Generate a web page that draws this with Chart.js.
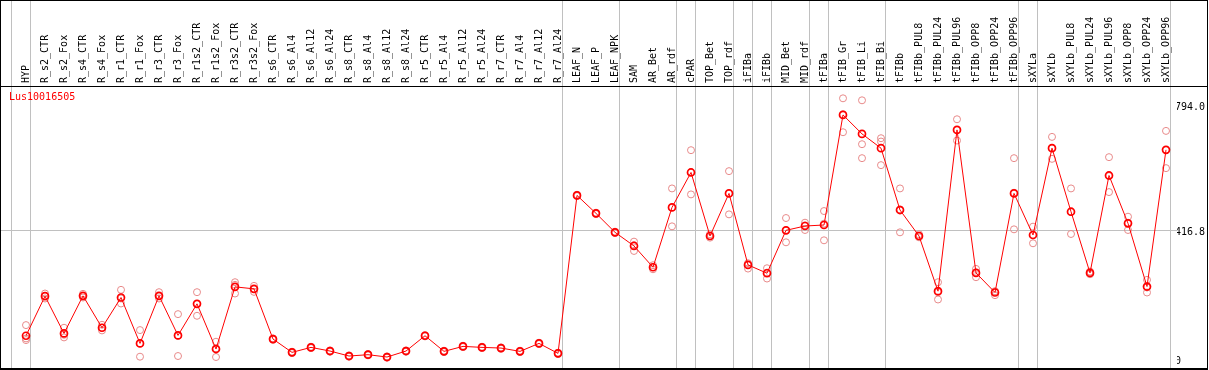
<!DOCTYPE html>
<html>
<head>
<meta charset="utf-8">
<script src="https://cdn.jsdelivr.net/npm/chart.js@4.4.1/dist/chart.umd.min.js"></script>
<style>
  html, body { margin: 0; padding: 0; background: #fff; }
  #wrap { position: relative; width: 1209px; height: 370px; }
  #geneTitle { position: absolute; left: 9px; top: 91px; font: 10px "DejaVu Sans Mono", monospace; color: #ff0000; line-height: 12px; }
</style>
</head>
<body>
<div id="wrap">
  <canvas id="expr" width="1209" height="370"></canvas>
  <div id="geneTitle">Lus10016505</div>
</div>
<script>
// --- DATA ---
const categories = [
  'HYP', 'R_s2_CTR', 'R_s2_Fox', 'R_s4_CTR', 'R_s4_Fox', 'R_r1_CTR', 'R_r1_Fox', 'R_r3_CTR', 'R_r3_Fox',
  'R_r1s2_CTR', 'R_r1s2_Fox', 'R_r3s2_CTR', 'R_r3s2_Fox', 'R_s6_CTR', 'R_s6_Al4', 'R_s6_Al12', 'R_s6_Al24',
  'R_s8_CTR', 'R_s8_Al4', 'R_s8_Al12', 'R_s8_Al24', 'R_r5_CTR', 'R_r5_Al4', 'R_r5_Al12', 'R_r5_Al24',
  'R_r7_CTR', 'R_r7_Al4', 'R_r7_Al12', 'R_r7_Al24', 'LEAF_N', 'LEAF_P', 'LEAF_NPK', 'SAM', 'AR_Bet', 'AR_rdf',
  'cPAR', 'TOP_Bet', 'TOP_rdf', 'iFIBa', 'iFIBb', 'MID_Bet', 'MID_rdf', 'tFIBa', 'tFIB_Gr', 'tFIB_Li', 'tFIB_Bi',
  'tFIBb', 'tFIBb_PUL8', 'tFIBb_PUL24', 'tFIBb_PUL96', 'tFIBb_OPP8', 'tFIBb_OPP24', 'tFIBb_OPP96',
  'sXYLa', 'sXYLb', 'sXYLb_PUL8', 'sXYLb_PUL24', 'sXYLb_PUL96', 'sXYLb_OPP8', 'sXYLb_OPP24', 'sXYLb_OPP96'
];

const meanValues = [
  100, 219, 107, 220, 124, 215, 77, 220, 101, 196, 60, 247, 241, 90, 50, 65, 54,
  39, 43, 36, 54, 100, 53, 68, 65, 63, 53, 77, 47, 522, 468, 411, 370, 306, 486,
  591, 400, 528, 313, 288, 417, 430, 433, 764, 707, 664, 478, 400, 234, 719, 289, 230, 528,
  403, 664, 473, 289, 582, 438, 248, 659
];

const rep1 = [
  132, 227, 124, 226, 133, 238, 117, 231, 165, 231, 82, 261, 250, 92, 52, 67, 56,
  41, 45, 38, 56, 102, 55, 70, 67, 65, 55, 79, 49, 524, 470, 413, 383, 312, 543,
  658, 405, 595, 318, 303, 454, 440, 475, 814, 808, 694, 543, 405, 261, 751, 301, 234, 634,
  428, 698, 543, 293, 637, 458, 268, 716
];
const rep2 = [
  92, 220, 103, 220, 124, 212, 77, 219, 100, 196, 62, 253, 240, 90, 50, 65, 54,
  39, 43, 36, 54, 100, 53, 68, 65, 63, 53, 77, 47, 522, 468, 411, 372, 306, 486,
  592, 400, 528, 313, 290, 417, 432, 437, 766, 676, 684, 480, 400, 231, 719, 290, 232, 530,
  403, 664, 472, 289, 580, 440, 245, 659
];
const rep3 = [
  87, 212, 95, 215, 116, 197, 37, 212, 39, 160, 36, 227, 232, 88, 48, 63, 52,
  37, 41, 34, 52, 98, 51, 66, 63, 61, 51, 75, 45, 520, 466, 409, 355, 300, 429,
  525, 395, 465, 302, 272, 381, 418, 387, 712, 634, 613, 411, 396, 209, 687, 276, 222, 420,
  378, 632, 406, 285, 532, 418, 230, 604
];

// group boundaries (index of last category in a group, -1 = left edge)
const groupEnds = [-1, 0, 28, 31, 34, 35, 37, 38, 39, 41, 42, 45, 52, 53, 60];

const yTicks = [0, 416.8, 794.0];
const yTickLabels = ['0', '416.8', '794.0'];

// --- LAYOUT HELPERS ---
const STEP_PX = 19;
const FIRST_PX = 25;          // pixel offset of first category from chart left
const PLOT_W = 1176;
const X_MIN = -FIRST_PX / STEP_PX;
const X_MAX = X_MIN + PLOT_W / STEP_PX;
const SEP_OFF = 4.5 / STEP_PX;  // separators sit just right of each label
const Y_MAX = 851;
const CLEAR = 'rgba(0,0,0,0)';
const GRID = '#c0c0c0';

Chart.defaults.font.family = '"DejaVu Sans Mono", monospace';
Chart.defaults.font.size = 10;
Chart.defaults.color = '#000';

const sepSet = new Set(groupEnds);

const meanPoints = meanValues.map((v, i) => ({ x: i, y: v }));
const repPoints = [];
[rep1, rep2, rep3].forEach(r => r.forEach((v, i) => repPoints.push({ x: i, y: v })));

function noPad(s) {
  s.paddingLeft = 0; s.paddingRight = 0; s.paddingTop = 0; s.paddingBottom = 0;
}

// lift the bottom "0" label so it stays inside the frame
const zeroLabelLift = {
  id: 'zeroLabelLift',
  beforeDraw(chart) {
    const s = chart.scales.y;
    if (!s.getLabelItems) return;
    s.getLabelItems().forEach(it => {
      if (it.label === '0') it.options.translation[1] = s.bottom - 8;
    });
  }
};

const frame = {
  id: 'frame',
  afterDraw(chart) {
    const c = chart.ctx;
    c.save();
    c.strokeStyle = '#000';
    c.lineWidth = 1;
    c.beginPath();
    c.moveTo(0, 0.5); c.lineTo(1208, 0.5);
    c.moveTo(0.5, 0); c.lineTo(0.5, 370);
    c.moveTo(1207.5, 0); c.lineTo(1207.5, 370);
    c.moveTo(0, 86.5); c.lineTo(1208, 86.5);
    c.stroke();
    c.lineWidth = 2;
    c.beginPath();
    c.moveTo(0, 369); c.lineTo(1208, 369);
    c.stroke();
    c.restore();
  }
};

const chart = new Chart(document.getElementById('expr').getContext('2d'), {
  type: 'scatter',
  data: {
    datasets: [
      {
        label: 'Lus10016505',
        data: meanPoints,
        showLine: true,
        borderColor: '#ff0000',
        borderWidth: 1,
        pointRadius: 3.5,
        pointBorderWidth: 1.7,
        pointBorderColor: '#ff0000',
        pointBackgroundColor: CLEAR
      },
      {
        label: 'replicates',
        data: repPoints,
        showLine: false,
        pointRadius: 3.5,
        pointBorderWidth: 1,
        pointBorderColor: '#e88a8a',
        pointBackgroundColor: CLEAR
      }
    ]
  },
  options: {
    responsive: false,
    animation: false,
    layout: { autoPadding: false, padding: { left: 1, right: 2, top: 0, bottom: 1 } },
    plugins: { legend: { display: false }, tooltip: { enabled: false } },
    scales: {
      x: {
        type: 'linear',
        position: 'top',
        min: X_MIN,
        max: X_MAX,
        afterBuildTicks: s => {
          s.ticks = [];
          for (let i = -1; i < categories.length; i++) s.ticks.push({ value: i + SEP_OFF });
        },
        afterFit: s => { s.height = 86; noPad(s); },
        ticks: {
          autoSkip: false,
          minRotation: 90,
          maxRotation: 90,
          padding: -83,
          labelOffset: 8,
          callback: (v) => {
            const i = Math.round(v - SEP_OFF);
            return i >= 0 ? categories[i] : '';
          }
        },
        grid: {
          color: ctx => (ctx.tick && sepSet.has(Math.round(ctx.tick.value - SEP_OFF))) ? GRID : CLEAR,
          tickLength: 86,
          lineWidth: 1
        },
        border: { display: true, color: '#000' }
      },
      y: {
        type: 'linear',
        position: 'right',
        min: 0,
        max: Y_MAX,
        afterBuildTicks: s => { s.ticks = yTicks.map(v => ({ value: v })); },
        afterFit: s => { s.width = 30; noPad(s); },
        ticks: {
          padding: -2,
          labelOffset: 2,
          callback: (v) => yTickLabels[yTicks.indexOf(v)]
        },
        grid: {
          color: ctx => (ctx.tick && ctx.tick.value === 416.8) ? GRID : CLEAR,
          drawTicks: false
        },
        border: { display: false }
      }
    }
  },
  plugins: [zeroLabelLift, frame]
});
</script>
</body>
</html>
